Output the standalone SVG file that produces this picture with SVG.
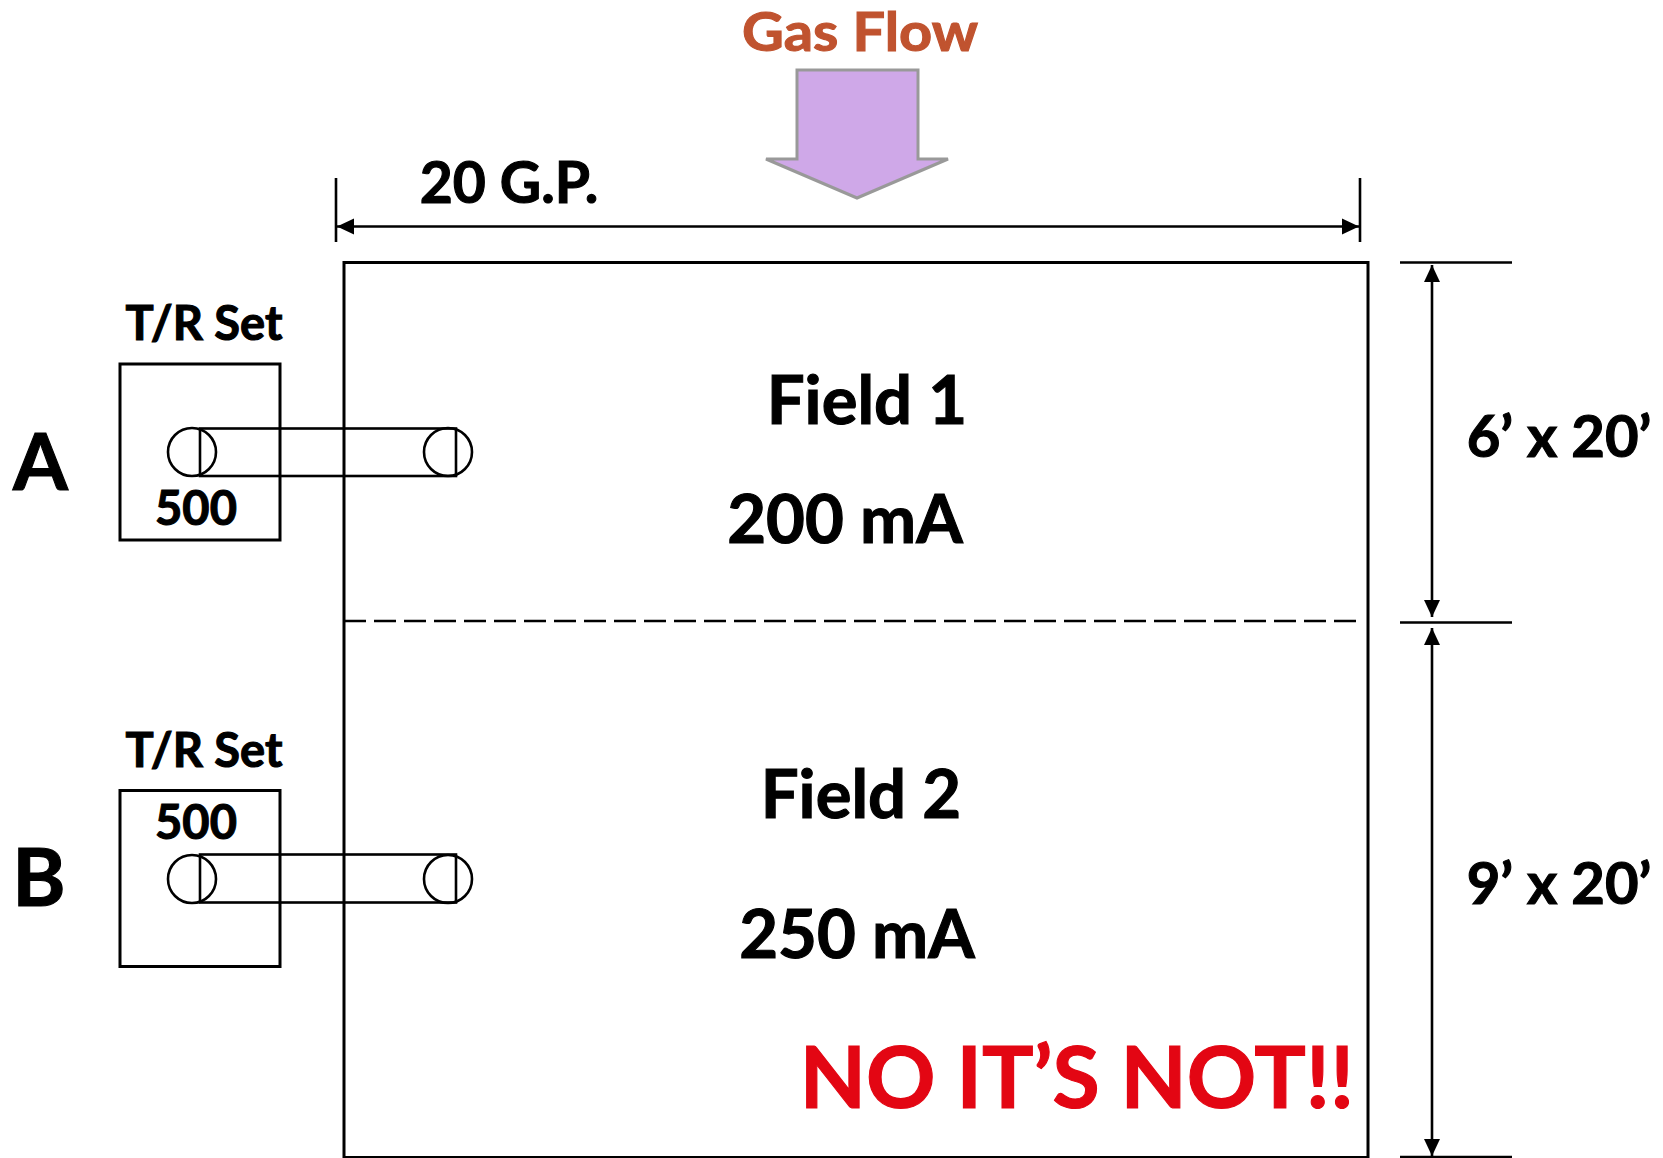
<svg xmlns="http://www.w3.org/2000/svg" width="1663" height="1158" viewBox="0 0 1663 1158">
<style>
text{font-family:"Lato","Open Sans","Liberation Sans",sans-serif;font-weight:700;fill:#000;stroke:#000;stroke-width:1.1}
.s{fill:none;stroke:#000;stroke-width:3}
.c{fill:none;stroke:#000;stroke-width:2.6}
.d{fill:none;stroke:#000;stroke-width:2.6}
.l{font-size:67px}.m{font-size:57px}.t{font-size:47px}.n{font-size:47px}
</style>
<defs>
<marker id="ah" markerUnits="userSpaceOnUse" markerWidth="18" markerHeight="18" refX="17" refY="9" orient="auto-start-reverse" viewBox="0 0 18 18"><path d="M0 1L17 9L0 17Z" fill="#000"/></marker>
</defs>
<rect width="1663" height="1158" fill="#fff"/>
<g id="gas-flow">
<text x="860" y="51" text-anchor="middle" font-size="54" style="fill:#c0532f;stroke:#c0532f" textLength="236" lengthAdjust="spacingAndGlyphs">Gas Flow</text>
<path d="M797 70H918V159H948L857 198L766 159H797Z" fill="#cfa8e8" stroke="#999" stroke-width="3"/>
</g>
<g id="precipitator">
<rect class="s" x="344" y="262.500" width="1024" height="895"/>
<path class="d" d="M344 621H1364" stroke-dasharray="22 8"/>
</g>
<g id="connectors">
<path class="d" d="M336 178V242M1360 178V242M1400 262.500H1512M1400 622.500H1512M1400 1157H1512"/>
<path class="d" d="M337 226.500H1359" marker-start="url(#ah)" marker-end="url(#ah)"/>
<path class="d" d="M1432 265V617" marker-start="url(#ah)" marker-end="url(#ah)"/>
<path class="d" d="M1432 628V1156" marker-start="url(#ah)" marker-end="url(#ah)"/>
</g>
<g id="tr-set-a">
<rect class="s" x="120" y="364" width="160" height="176"/>
<circle class="c" cx="192" cy="452" r="24"/>
<circle class="c" cx="448" cy="452" r="24"/>
<rect class="c" x="200" y="428.500" width="256" height="47.500"/>
<text x="204" y="340" text-anchor="middle" class="t">T/R Set</text>
<text x="196" y="525" text-anchor="middle" class="n">500</text>
</g>
<g id="tr-set-b">
<rect class="s" x="120" y="790.500" width="160" height="176"/>
<circle class="c" cx="192" cy="879" r="24"/>
<circle class="c" cx="448" cy="879" r="24"/>
<rect class="c" x="200" y="854.500" width="256" height="48"/>
<text x="204" y="767" text-anchor="middle" class="t">T/R Set</text>
<text x="196" y="839" text-anchor="middle" class="n">500</text>
</g>
<g id="labels">
<text x="40.500" y="490" text-anchor="middle" font-size="79">A</text>
<text x="39" y="906" text-anchor="middle" font-size="81">B</text>
<text x="509" y="203" text-anchor="middle" class="m">20 G.P.</text>
<text x="867" y="424" text-anchor="middle" class="l">Field 1</text>
<text x="845" y="543" text-anchor="middle" class="l">200 mA</text>
<text x="861" y="818" text-anchor="middle" class="l">Field 2</text>
<text x="857" y="958" text-anchor="middle" class="l">250 mA</text>
<text x="1559" y="457" text-anchor="middle" style="font-size:58px">6’ x 20’</text>
<text x="1559" y="904" text-anchor="middle" style="font-size:58px">9’ x 20’</text>
<text x="1077" y="1108" text-anchor="middle" font-size="86" style="fill:#e30613;stroke:#e30613">NO IT’S NOT!!</text>
</g>
</svg>
